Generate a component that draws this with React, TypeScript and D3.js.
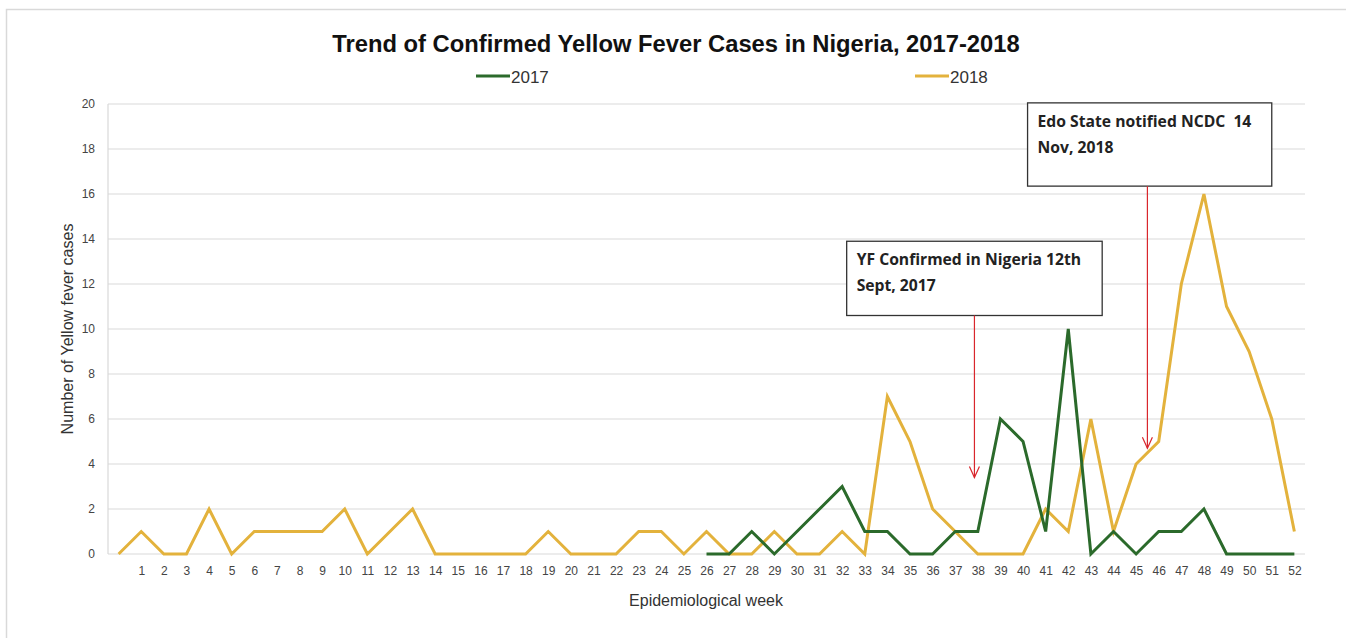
import * as d3 from "d3";
import React, { useEffect, useRef } from "react";

// week 0 is an unlabeled leading category
const weeks = d3.range(0, 53);
const weekLabels = d3.range(1, 53).map(String);

const cases2018 = [
  0, 1, 0, 0, 2, 0, 1, 1, 1, 1, 2, 0, 1, 2, 0, 0, 0, 0, 0, 1, 0, 0, 0, 1, 1, 0,
  1, 0, 0, 1, 0, 0, 1, 0, 7, 5, 2, 1, 0, 0, 0, 2, 1, 6, 1, 4, 5, 12, 16, 11, 9,
  6, 1,
];
// 2017 reporting starts at week 26
const weeks2017 = d3.range(26, 53);
const cases2017 = [
  0, 0, 1, 0, 1, 2, 3, 1, 1, 0, 0, 1, 1, 6, 5, 1, 10, 0, 1, 0, 1, 1, 2, 0, 0, 0,
  0,
];

const yTicks = [0, 2, 4, 6, 8, 10, 12, 14, 16, 18, 20];

const notes = [
  {
    lines: ["YF Confirmed in Nigeria 12th", "Sept, 2017"],
    box: [32.2, 43.5, 13.9, 10.6],
    arrowWeek: 37.85,
    arrowTo: 3.4,
  },
  {
    lines: ["Edo State notified NCDC  14", "Nov, 2018"],
    box: [40.2, 51.0, 20.05, 16.35],
    arrowWeek: 45.5,
    arrowTo: 4.7,
  },
];

export default function App() {
  const ref = useRef<SVGSVGElement | null>(null);

  useEffect(() => {
    const svg = d3.select(ref.current);
    svg.selectAll("*").remove();

    const width = 1346;
    const height = 638;
    const left = 108;
    const right = 1305;
    const top = 104;
    const bottom = 554;

    const x = d3.scaleLinear().domain([-0.47, 52.47]).range([left, right]);
    const y = d3.scaleLinear().domain([0, 20]).range([bottom, top]);

    svg.attr("width", width).attr("height", height);
    svg.append("rect").attr("width", width).attr("height", height).attr("fill", "#fff");

    // outer frame
    svg
      .append("path")
      .attr("d", `M6.5,${height} V9.5 H${width}`)
      .attr("fill", "none")
      .attr("stroke", "#d9d9d9")
      .attr("stroke-width", 1.5);

    const font = "Liberation Sans, Arial, sans-serif";

    // gridlines
    svg
      .append("g")
      .selectAll("line")
      .data(yTicks)
      .enter()
      .append("line")
      .attr("x1", left)
      .attr("x2", right)
      .attr("y1", (d) => y(d))
      .attr("y2", (d) => y(d))
      .attr("stroke", "#d9d9d9")
      .attr("stroke-width", 1.2);

    svg
      .append("line")
      .attr("x1", left)
      .attr("x2", left)
      .attr("y1", top)
      .attr("y2", bottom)
      .attr("stroke", "#d9d9d9")
      .attr("stroke-width", 1.2);

    // y axis
    const yAxis = svg
      .append("g")
      .attr("transform", `translate(${left - 10},0)`)
      .call(d3.axisLeft(y).tickValues(yTicks).tickSize(0).tickPadding(3));
    yAxis.select(".domain").remove();
    yAxis.selectAll("text").attr("font-family", font).attr("font-size", 12).attr("fill", "#444");

    // x axis
    const xAxis = svg
      .append("g")
      .attr("transform", `translate(0,${bottom + 12})`)
      .call(
        d3
          .axisBottom(x)
          .tickValues(weekLabels.map(Number))
          .tickFormat((d) => String(d))
          .tickSize(0)
          .tickPadding(0)
      );
    xAxis.select(".domain").remove();
    xAxis.selectAll("text").attr("font-family", font).attr("font-size", 12).attr("fill", "#444");

    // titles
    svg
      .append("text")
      .attr("x", 676)
      .attr("y", 52)
      .attr("text-anchor", "middle")
      .attr("font-family", font)
      .attr("font-weight", "bold")
      .attr("font-size", 24)
      .attr("fill", "#111")
      .attr("transform", "translate(676,0) scale(0.99,1) translate(-676,0)")
      .text("Trend of Confirmed Yellow Fever Cases in Nigeria, 2017-2018");

    svg
      .append("text")
      .attr("x", 706)
      .attr("y", 606)
      .attr("text-anchor", "middle")
      .attr("font-family", font)
      .attr("font-size", 16)
      .attr("fill", "#333")
      .text("Epidemiological week");

    svg
      .append("text")
      .attr("transform", `translate(73,${(top + bottom) / 2}) rotate(-90)`)
      .attr("text-anchor", "middle")
      .attr("font-family", font)
      .attr("font-size", 16)
      .attr("fill", "#333")
      .text("Number of Yellow fever cases");

    // legend
    const legend = [
      { label: "2017", color: "#2b6a2b", x: 476 },
      { label: "2018", color: "#e3b23c", x: 915 },
    ];
    legend.forEach((l) => {
      svg
        .append("line")
        .attr("x1", l.x)
        .attr("x2", l.x + 34)
        .attr("y1", 76)
        .attr("y2", 76)
        .attr("stroke", l.color)
        .attr("stroke-width", 3);
      svg
        .append("text")
        .attr("x", l.x + 35)
        .attr("y", 83)
        .attr("font-family", font)
        .attr("font-size", 17)
        .attr("fill", "#333")
        .text(l.label);
    });

    // lines
    const line = d3
      .line<[number, number]>()
      .x((d) => x(d[0]))
      .y((d) => y(d[1]));

    svg
      .append("path")
      .datum(weeks.map((w, i) => [w, cases2018[i]] as [number, number]))
      .attr("d", line)
      .attr("fill", "none")
      .attr("stroke", "#e3b23c")
      .attr("stroke-width", 3)
      .attr("stroke-linejoin", "miter");

    svg
      .append("path")
      .datum(weeks2017.map((w, i) => [w, cases2017[i]] as [number, number]))
      .attr("d", line)
      .attr("fill", "none")
      .attr("stroke", "#2b6a2b")
      .attr("stroke-width", 3)
      .attr("stroke-linejoin", "miter");

    // annotations
    notes.forEach((n) => {
      const [w0, w1, v0, v1] = n.box;
      const bx = x(w0);
      const by = y(v0);
      const bw = x(w1) - bx;
      const bh = y(v1) - by;
      svg
        .append("rect")
        .attr("x", bx)
        .attr("y", by)
        .attr("width", bw)
        .attr("height", bh)
        .attr("fill", "#fff")
        .attr("stroke", "#333")
        .attr("stroke-width", 1.3);
      n.lines.forEach((t, i) => {
        svg
          .append("text")
          .attr("x", bx + 10)
          .attr("y", by + 24 + i * 26)
          .attr("font-family", "Open Sans, sans-serif")
          .attr("font-weight", "bold")
          .attr("font-size", 15.7)
          .attr("fill", "#222")
          .style("white-space", "pre")
          .text(t);
      });
      const ax = x(n.arrowWeek);
      const ay = y(n.arrowTo);
      svg
        .append("line")
        .attr("x1", ax)
        .attr("x2", ax)
        .attr("y1", by + bh)
        .attr("y2", ay)
        .attr("stroke", "#d9262c")
        .attr("stroke-width", 1.2);
      svg
        .append("path")
        .attr("d", `M${ax - 5},${ay - 11} L${ax},${ay} L${ax + 5},${ay - 11}`)
        .attr("fill", "none")
        .attr("stroke", "#d9262c")
        .attr("stroke-width", 1.2);
    });
  }, []);

  return <svg ref={ref} style={{ position: "absolute", left: 0, top: 0, display: "block" }} />;
}
